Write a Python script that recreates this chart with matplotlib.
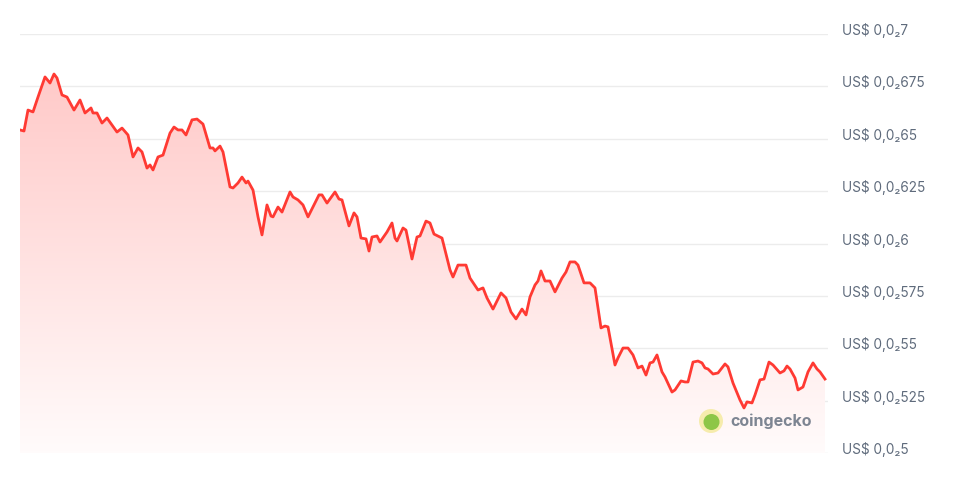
import numpy as np
import matplotlib
matplotlib.use("Agg")
import matplotlib.pyplot as plt
from matplotlib.patches import Polygon, Circle
from matplotlib.colors import LinearSegmentedColormap
from matplotlib.transforms import ScaledTranslation

# sample index (time steps across the window)
t = [0, 4, 8, 13, 18, 25, 30, 34, 37, 42, 47, 54, 60, 65, 71, 73, 77, 82, 87, 97,
     102, 108, 113, 118, 122, 127, 130, 133, 138, 143, 150, 154, 158, 162, 166, 172, 177, 183, 190, 193,
     195, 200, 203, 210, 213, 218, 222, 226, 228, 233, 238, 242, 247, 251, 253, 258, 262, 270, 273, 278,
     283, 288, 299, 302, 307, 315, 319, 322, 329, 334, 337, 341, 346, 349, 352, 357, 360, 367, 372, 375,
     377, 383, 386, 392, 397, 400, 406, 410, 414, 422, 430, 433, 438, 446, 450, 458, 463, 467, 473, 481,
     486, 491, 496, 502, 506, 510, 515, 518, 521, 525, 530, 535, 542, 546, 550, 555, 558, 564, 570, 575,
     581, 585, 588, 595, 598, 603, 608, 613, 618, 622, 626, 630, 633, 637, 642, 645, 652, 655, 661, 665,
     668, 673, 678, 682, 685, 688, 693, 698, 705, 708, 713, 720, 724, 727, 732, 735, 740, 744, 749, 753,
     760, 764, 767, 770, 775, 778, 783, 788, 793, 797, 800, 805]

# price in USD
price = [0.006542, 0.006537, 0.006637, 0.006628, 0.006699, 0.006795, 0.006766, 0.006809, 0.006790, 0.006709,
         0.006699, 0.006637, 0.006685, 0.006623, 0.006647, 0.006623, 0.006623, 0.006575, 0.006599, 0.006532,
         0.006551, 0.006518, 0.006413, 0.006456, 0.006437, 0.006360, 0.006375, 0.006351, 0.006413, 0.006422,
         0.006527, 0.006556, 0.006542, 0.006542, 0.006518, 0.006590, 0.006594, 0.006570, 0.006456, 0.006456,
         0.006442, 0.006465, 0.006437, 0.006270, 0.006265, 0.006289, 0.006317, 0.006289, 0.006298, 0.006255,
         0.006127, 0.006041, 0.006184, 0.006131, 0.006127, 0.006174, 0.006150, 0.006246, 0.006222, 0.006208,
         0.006184, 0.006127, 0.006232, 0.006232, 0.006193, 0.006246, 0.006212, 0.006208, 0.006084, 0.006146,
         0.006127, 0.006026, 0.006022, 0.005964, 0.006031, 0.006036, 0.006007, 0.006055, 0.006098, 0.006026,
         0.006012, 0.006074, 0.006064, 0.005926, 0.006031, 0.006036, 0.006107, 0.006098, 0.006045, 0.006026,
         0.005874, 0.005840, 0.005897, 0.005897, 0.005835, 0.005778, 0.005788, 0.005740, 0.005687, 0.005764,
         0.005740, 0.005673, 0.005640, 0.005687, 0.005659, 0.005745, 0.005802, 0.005821, 0.005869, 0.005821,
         0.005821, 0.005769, 0.005835, 0.005864, 0.005912, 0.005912, 0.005897, 0.005812, 0.005812, 0.005788,
         0.005597, 0.005606, 0.005602, 0.005420, 0.005454, 0.005501, 0.005501, 0.005468, 0.005406, 0.005415,
         0.005372, 0.005430, 0.005434, 0.005468, 0.005387, 0.005363, 0.005291, 0.005301, 0.005344, 0.005339,
         0.005339, 0.005434, 0.005439, 0.005430, 0.005406, 0.005401, 0.005377, 0.005382, 0.005425, 0.005411,
         0.005334, 0.005253, 0.005215, 0.005244, 0.005239, 0.005277, 0.005349, 0.005353, 0.005434, 0.005420,
         0.005382, 0.005392, 0.005415, 0.005401, 0.005358, 0.005301, 0.005315, 0.005387, 0.005430, 0.005401,
         0.005387, 0.005353]

yticks = [0.005, 0.00525, 0.0055, 0.00575, 0.006, 0.00625, 0.0065, 0.00675, 0.007]
ytick_labels = ["US$ 0,0\u20825", "US$ 0,0\u2082525", "US$ 0,0\u208255", "US$ 0,0\u2082575",
                "US$ 0,0\u20826", "US$ 0,0\u2082625", "US$ 0,0\u208265", "US$ 0,0\u2082675",
                "US$ 0,0\u20827"]

LINE = "#ff3a33"
W, H = 976, 482
fig = plt.figure(figsize=(W / 100, H / 100), dpi=100)
fig.patch.set_facecolor("white")
ax = fig.add_axes([20 / W, 29 / H, 808 / W, 419 / H])
ax.set_facecolor("white")

xmin, xmax = 0, 808
ymin, ymax = 0.005, 0.007
ax.set_xlim(xmin, xmax)
ax.set_ylim(ymin, ymax)

# gradient fill under the line
verts = [(t[0], ymin)] + list(zip(t, price)) + [(t[-1], ymin)]
poly = Polygon(verts, closed=True, facecolor="none", edgecolor="none")
ax.add_patch(poly)
cmap = LinearSegmentedColormap.from_list(
    "g", [(1.0, 0.985, 0.985), (1.0, 0.78, 0.775)])
grad = np.linspace(0, 1, 256).reshape(-1, 1)
im = ax.imshow(grad, aspect="auto", cmap=cmap, origin="lower",
               extent=[xmin, xmax, ymin, 0.0069], zorder=1, interpolation="bilinear")
im.set_clip_path(poly)

ax.plot(t, price, color=LINE, lw=2.0, zorder=3, solid_joinstyle="round")

# grid
for yv in yticks:
    ax.axhline(yv, color="#ececec", lw=1.0, zorder=0.5)

for s in ax.spines.values():
    s.set_visible(False)
ax.set_xticks([])
ax.yaxis.tick_right()
ax.set_yticks(yticks)
ax.set_yticklabels(ytick_labels, family=["Inter", "DejaVu Sans"], fontsize=9.8,
                   color="#5f6b7c")
ax.tick_params(axis="y", length=0, pad=10)
off = ScaledTranslation(0, 5 / 100, fig.dpi_scale_trans)
for lab in ax.get_yticklabels():
    lab.set_transform(lab.get_transform() + off)

# coingecko watermark
cx, cy = 711, 421
fig.patches.append(Circle((cx, H - cy), 12, transform=None,
                          facecolor="#f6ecad", edgecolor="none", zorder=5))
fig.patches.append(Circle((cx + 0.5, H - cy - 1), 8, transform=None,
                          facecolor="#8dc647", edgecolor="none", zorder=6))
fig.text(730 / W, 1 - 421 / H, "coingecko", fontsize=11.5, fontweight="bold",
         color="#7d8592", family=["Inter", "DejaVu Sans"], va="center", ha="left")

fig.savefig("out.png", dpi=100)
